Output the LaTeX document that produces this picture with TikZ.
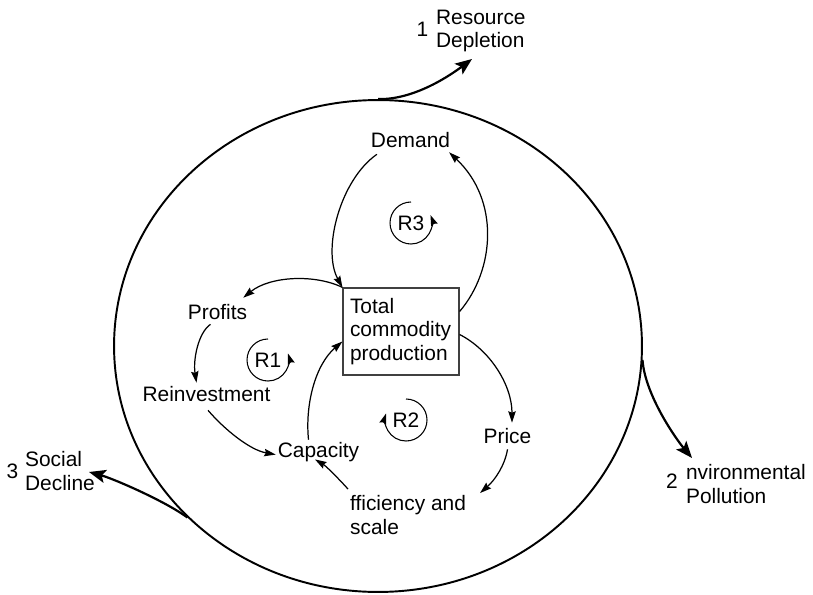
\documentclass[tikz,border=0pt]{standalone}
\usepackage{fontspec}
\setmainfont{Liberation Sans}
\usetikzlibrary{arrows.meta,shapes.geometric}
\begin{document}
\begin{tikzpicture}[x=0.02cm,y=0.02cm,
  every node/.style={font=\fontsize{11.9}{13.5}\selectfont, inner sep=1pt},
  var/.style={anchor=base},
  multi/.style={anchor=base west, align=left},
  link/.style={line width=0.7pt, -{Stealth[length=6.5pt,width=4.2pt,inset=0.8pt]}},
  flow/.style={line width=1.25pt, -{Stealth[length=9.5pt,width=7.5pt,inset=2pt]}},
  loopmark/.style={line width=0.6pt, -{Stealth[length=6pt,width=4pt,inset=0.7pt]}}
]
\useasboundingbox (0,0) rectangle (813,-594);

% system boundary
\node[draw, line width=1.1pt, ellipse, minimum width=10.56cm, minimum height=9.84cm, inner sep=0] (sys) at (378,-346) {};

% central stock
\node[draw=black!75, line width=0.7pt, minimum width=2.32cm, minimum height=1.74cm,
      text width=2.04cm, align=left, inner sep=0] (prod) at (401,-331.5) {Total\\commodity\\production};

% variables
\node[var] (demand)   at (410.5,-148) {Demand};
\node[var] (profits)  at (217.5,-319) {Profits};
\node[var] (reinv)    at (206.5,-401) {Reinvestment};
\node[var] (capacity) at (318.5,-457) {Capacity};
\node[var] (price)    at (507.5,-443) {Price};
\node[multi] (eff)    at (348,-534) {fficiency and\\scale};

% loop labels
\node (r1) at (268,-360) {R1};
\node (r2) at (406,-420) {R2};
\node (r3) at (411,-223) {R3};

% outflows
\node[multi] (res) at (434,-48) {Resource\\Depletion};
\node (n1) at (422.5,-29) {1};
\node[multi] (env) at (684,-503) {nvironmental\\Pollution};
\node (n2) at (672,-481.5) {2};
\node[multi] (soc) at (23,-490) {Social\\Decline};
\node (n3) at (12.5,-471.5) {3};

\coordinate (t1) at (472,-59);
\coordinate (t2) at (692,-458);
\coordinate (t3) at (89,-472);

\draw[flow] (sys.north) .. controls (415,-100) and (452,-74) .. (t1);
\draw[flow] (sys.-3) .. controls (645,-395) and (676,-439) .. (t2);
\draw[flow] (sys.222) .. controls (165,-501) and (113,-478.5) .. (t3);

% causal links
\draw[link] ([shift={(8,-4)}]demand.south west) .. controls (340,-180) and (322,-250) .. (prod.north west);
\draw[link] ([shift={(0,20)}]prod.east) .. controls (495,-270) and (500,-200) .. ([shift={(-3,-2)}]demand.south east);
\draw[link] (prod.north west) .. controls (315,-274) and (270,-276) .. ([shift={(-6,4)}]profits.north east);
\draw[link] ([shift={(-7,-3)}]profits.south) .. controls (198,-333) and (193,-360) .. ([shift={(-10,1)}]reinv.north);
\draw[link] ([shift={(1.5,-7)}]reinv.south) .. controls (225,-430) and (250,-450) .. ([shift={(0,-3)}]capacity.west);
\draw[link] ([shift={(-10,0)}]capacity.north) .. controls (305,-405) and (315,-365) .. ([shift={(0,-10)}]prod.west);
\draw[link] ([shift={(0,4)}]eff.north west) .. controls (338,-478) and (326,-466) .. ([shift={(-3.5,4)}]capacity.south);
\draw[link] ([shift={(0,-3)}]prod.east) .. controls (490,-350) and (512,-385) .. ([shift={(4.5,3)}]price.north);
\draw[link] ([shift={(0,-4)}]price.south) .. controls (505,-465) and (495,-480) .. ([shift={(12,0)}]eff.north east);

% loop markers
\draw[loopmark] ([shift={(90:21)}]r1.center) arc[start angle=90, end angle=378, radius=21];
\draw[loopmark] ([shift={(90:21)}]r3.center) arc[start angle=90, end angle=382, radius=21];
\draw[loopmark] ([shift={(90:21)}]r2.center) arc[start angle=90, end angle=-198, radius=21];
\end{tikzpicture}
\end{document}
